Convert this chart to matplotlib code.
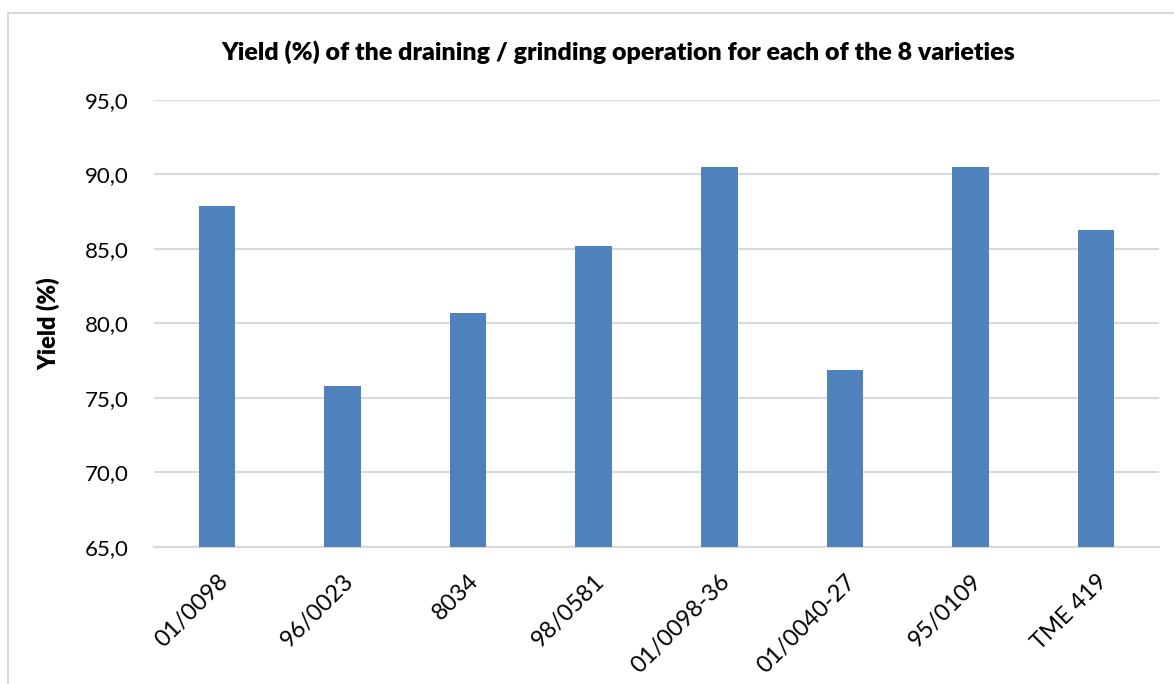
import matplotlib.pyplot as plt
from matplotlib.patches import Rectangle
from matplotlib.ticker import FuncFormatter

varieties = ['01/0098', '96/0023', '8034', '98/0581', '01/0098-36',
             '01/0040-27', '95/0109', 'TME 419']
yield_pct = [87.9, 75.8, 80.7, 85.2, 90.5, 76.9, 90.5, 86.3]

plt.rcParams['font.family'] = ['Lato', 'DejaVu Sans']

fig = plt.figure(figsize=(11.74, 6.84), dpi=100)
ax = fig.add_axes([0.1312, 0.2003, 0.856, 0.6535])

# outer chart frame (runs off the right and bottom edge)
fig.patches.append(Rectangle((0.0068, -0.05), 1.1, 1.031, transform=fig.transFigure,
                             fill=False, edgecolor='#d9d9d9', linewidth=1.5))

x = range(len(varieties))
ax.bar(x, yield_pct, width=0.29, color='#4f81bd', zorder=3)

ax.set_ylim(65, 95)
ax.set_xlim(-0.5, len(varieties) - 0.5)
ax.set_yticks(range(65, 96, 5))
ax.yaxis.set_major_formatter(FuncFormatter(lambda v, p: f'{v:.1f}'.replace('.', ',')))
ax.grid(axis='y', color='#d9d9d9', linewidth=1.5, zorder=0)

for s in ['top', 'right', 'left']:
    ax.spines[s].set_visible(False)
ax.spines['bottom'].set_color('#d9d9d9')
ax.spines['bottom'].set_linewidth(1.5)
ax.tick_params(axis='y', length=0, labelsize=16, colors='black', pad=18)

ax.set_xticks(list(x))
ax.set_xticklabels(varieties, rotation=45, ha='right', va='top', rotation_mode='anchor')
ax.tick_params(axis='x', length=0, labelsize=17, colors='black', pad=17)

ax.set_ylabel('Yield (%)', fontsize=17, fontweight='heavy')
ax.yaxis.set_label_coords(-0.0935, 0.5)
fig.text(0.527, 0.924, 'Yield (%) of the draining / grinding operation for each of the 8 varieties',
         ha='center', va='center', fontsize=18, fontweight='heavy')

fig.savefig('out.png', dpi=100)
